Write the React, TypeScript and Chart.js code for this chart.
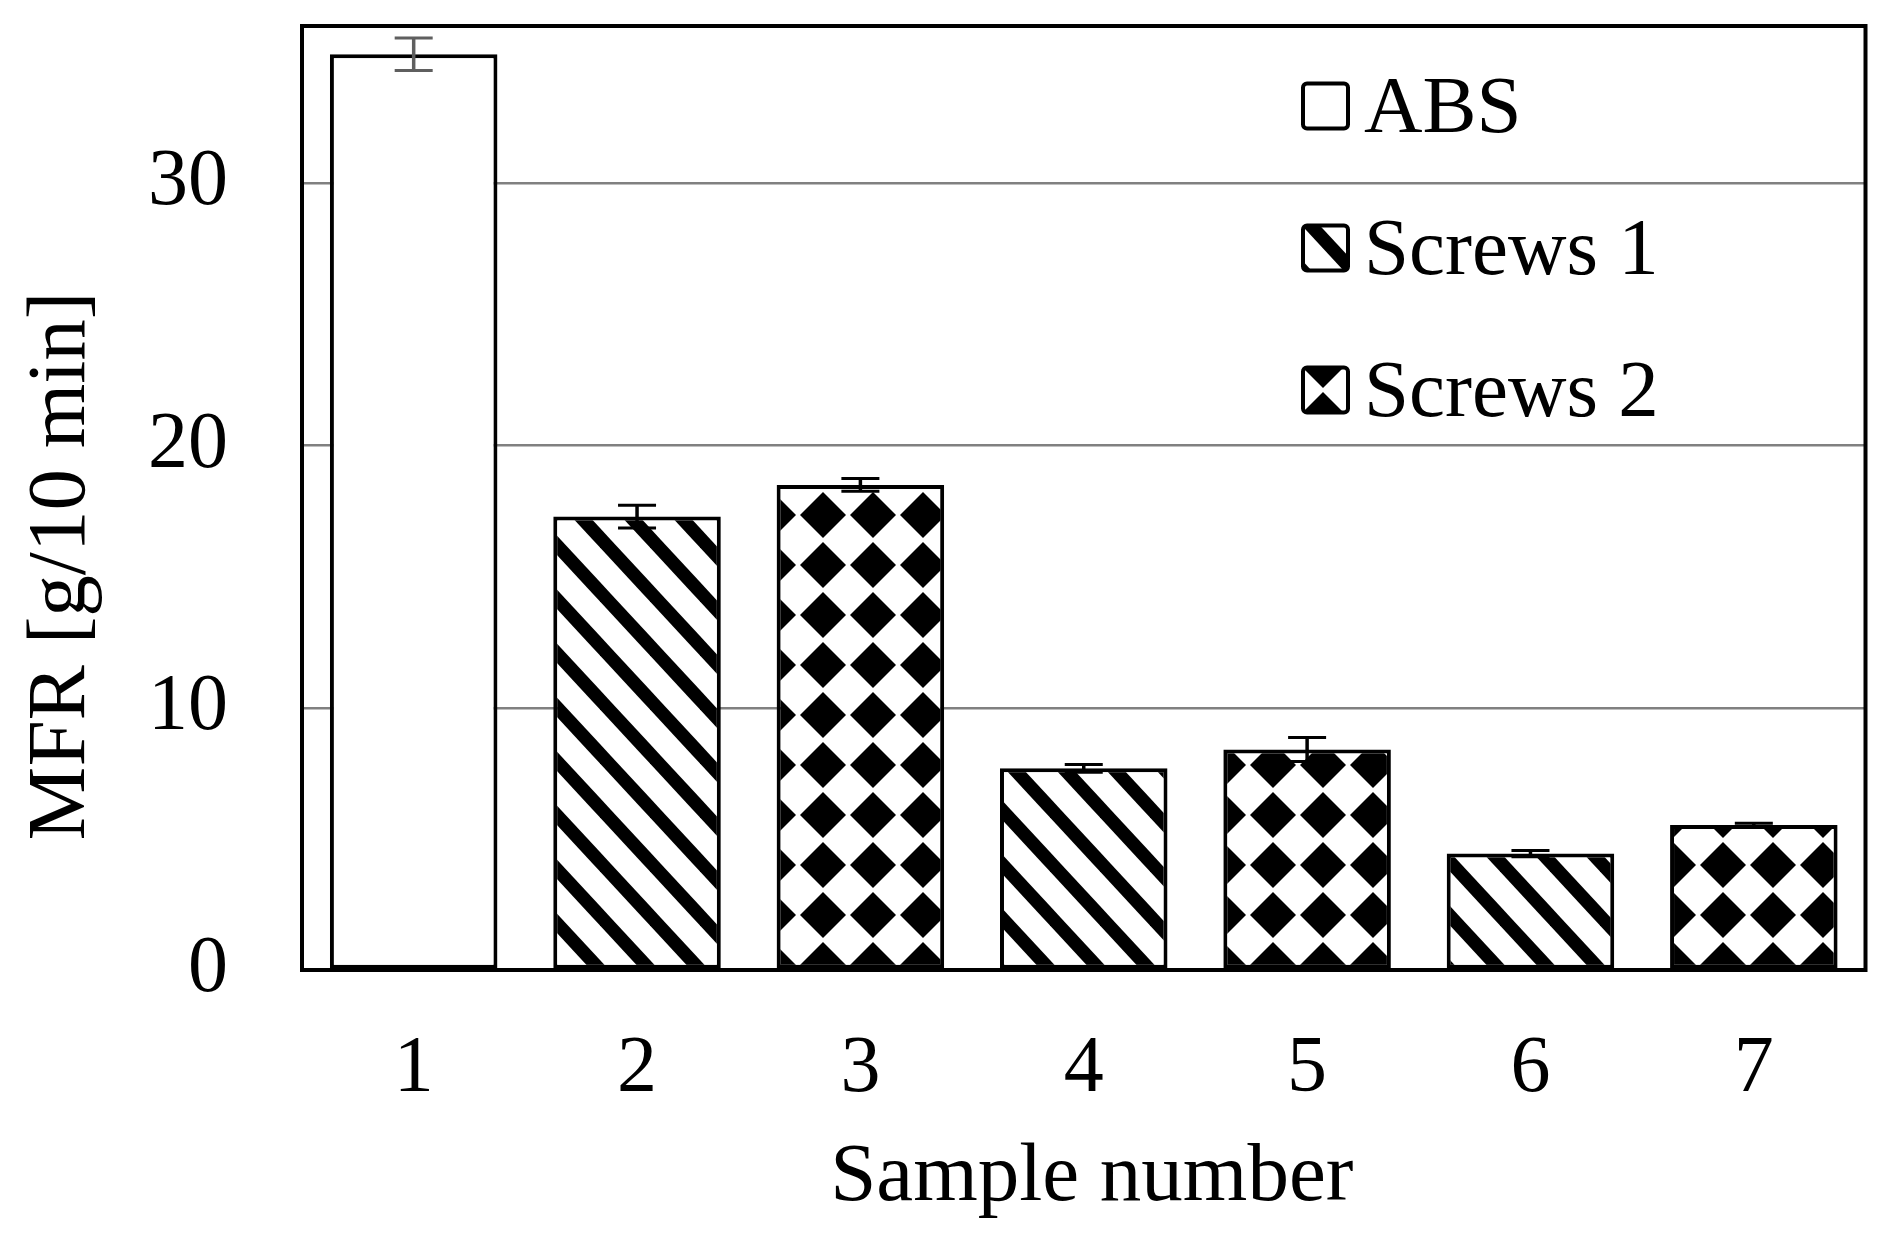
import React, { useEffect, useRef } from 'react';
import { Chart, registerables } from 'chart.js';

Chart.register(...registerables);

// ---------------- data ----------------
const categories = ['1', '2', '3', '4', '5', '6', '7'];
const seriesLabels = ['ABS', 'Screws 1', 'Screws 2'];
const absValues = [34.92, null, null, null, null, null, null];
const screws1Values = [null, 17.29, null, 7.69, null, 4.44, null];
const screws2Values = [null, null, 18.5, null, 8.41, null, 5.53];
const absErrors = [0.62, null, null, null, null, null, null];
const screws1Errors = [null, 0.43, null, 0.15, null, 0.12, null];
const screws2Errors = [null, null, 0.24, null, 0.46, null, 0.07];
const yTickValues = [0, 10, 20, 30];
const yMin = 0;
const yMax = 36;
const xTitle = 'Sample number';
const yTitle = 'MFR [g/10 min]';

const FONT = "'Liberation Serif', 'Times New Roman', serif";

function makeStripePattern(ctx: CanvasRenderingContext2D) {
  const W = 50, H = 54, bw = 18, off = 43;
  const c = document.createElement('canvas');
  c.width = W; c.height = H;
  const g = c.getContext('2d')!;
  g.fillStyle = '#ffffff';
  g.fillRect(0, 0, W, H);
  g.fillStyle = '#000000';
  for (let x0 = off - 2 * W; x0 <= off + W; x0 += W) {
    g.beginPath();
    g.moveTo(x0, 0);
    g.lineTo(x0 + bw, 0);
    g.lineTo(x0 + bw + W, H);
    g.lineTo(x0 + W, H);
    g.closePath();
    g.fill();
  }
  return ctx.createPattern(c, 'repeat')!;
}

function makeDiamondPattern(ctx: CanvasRenderingContext2D) {
  const S = 50, R = 23, cx0 = 23, cy0 = 15;
  const c = document.createElement('canvas');
  c.width = S; c.height = S;
  const g = c.getContext('2d')!;
  g.fillStyle = '#ffffff';
  g.fillRect(0, 0, S, S);
  g.fillStyle = '#000000';
  for (let dx = -S; dx <= S; dx += S) {
    for (let dy = -S; dy <= S; dy += S) {
      const cx = cx0 + dx, cy = cy0 + dy;
      g.beginPath();
      g.moveTo(cx, cy - R);
      g.lineTo(cx + R, cy);
      g.lineTo(cx, cy + R);
      g.lineTo(cx - R, cy);
      g.closePath();
      g.fill();
    }
  }
  return ctx.createPattern(c, 'repeat')!;
}

export default function App() {
  const canvasRef = useRef<HTMLCanvasElement | null>(null);

  useEffect(() => {
    const canvas = canvasRef.current!;
    const ctx = canvas.getContext('2d')!;
    const stripe = makeStripePattern(ctx);
    const diamond = makeDiamondPattern(ctx);
    const fills: any[] = ['#ffffff', stripe, diamond];
    const errorSets = [absErrors, screws1Errors, screws2Errors];
    const errColors = ['#5f5f5f', '#000000', '#000000'];

    const framePlugin = {
      id: 'frame',
      afterDatasetsDraw(chart: any) {
        const { ctx: c, chartArea: a } = chart;
        c.save();
        c.strokeStyle = '#000';
        c.lineWidth = 4;
        c.strokeRect(a.left, a.top, a.right - a.left, a.bottom - a.top);
        c.restore();
      },
    };

    const errorPlugin = {
      id: 'errorBars',
      afterDatasetsDraw(chart: any) {
        const c = chart.ctx;
        const ys = chart.scales.y;
        chart.data.datasets.forEach((ds: any, di: number) => {
          const meta = chart.getDatasetMeta(di);
          const errs = errorSets[di];
          meta.data.forEach((bar: any, i: number) => {
            const v = ds.data[i];
            const e = errs[i];
            if (v == null || e == null) return;
            const x = bar.x;
            const yt = ys.getPixelForValue(v + e);
            const yb = ys.getPixelForValue(v - e);
            c.save();
            c.strokeStyle = errColors[di];
            c.lineWidth = 3.5;
            c.beginPath();
            c.moveTo(x, yt);
            c.lineTo(x, yb);
            c.stroke();
            c.lineWidth = 3;
            c.beginPath();
            c.moveTo(x - 19, yt);
            c.lineTo(x + 19, yt);
            c.moveTo(x - 19, yb);
            c.lineTo(x + 19, yb);
            c.stroke();
            c.restore();
          });
        });
      },
    };

    const textPlugin = {
      id: 'texts',
      afterDraw(chart: any) {
        const c = chart.ctx;
        const a = chart.chartArea;
        c.save();
        c.fillStyle = '#000';
        // x title
        c.font = `83px ${FONT}`;
        c.textAlign = 'center';
        c.textBaseline = 'middle';
        c.fillText(xTitle, (a.left + a.right) / 2 + 8, 1178);
        // y title
        c.save();
        c.translate(62, 566);
        c.rotate(-Math.PI / 2);
        c.fillText(yTitle, 0, 0);
        c.restore();
        // legend
        const boxX = 1303, box = 45, firstCy = 106, gap = 142;
        c.font = `81px ${FONT}`;
        c.textAlign = 'left';
        c.textBaseline = 'alphabetic';
        seriesLabels.forEach((lab, i) => {
          const cy = firstCy + i * gap;
          c.beginPath();
          if ((c as any).roundRect) (c as any).roundRect(boxX, cy - box / 2, box, box, 4);
          else c.rect(boxX, cy - box / 2, box, box);
          c.fillStyle = fills[i];
          c.fill();
          c.lineWidth = 4;
          c.strokeStyle = '#000';
          c.stroke();
          c.fillStyle = '#000';
          c.fillText(lab, 1364, cy + 26);
        });
        c.restore();
      },
    };

    const chart = new Chart(canvas, {
      type: 'bar',
      data: {
        labels: categories,
        datasets: [
          { label: seriesLabels[0], data: absValues as any, backgroundColor: fills[0] },
          { label: seriesLabels[1], data: screws1Values as any, backgroundColor: fills[1] },
          { label: seriesLabels[2], data: screws2Values as any, backgroundColor: fills[2] },
        ],
      },
      options: {
        animation: false,
        responsive: false,
        maintainAspectRatio: false,
        layout: { padding: { left: 0, top: 26, right: 24.5, bottom: 0 } },
        datasets: {
          bar: {
            grouped: false,
            categoryPercentage: 1,
            barPercentage: 0.75,
            borderColor: '#000',
            borderWidth: 4,
            borderSkipped: false,
          } as any,
        },
        plugins: {
          legend: { display: false },
          tooltip: { enabled: false },
          title: { display: false },
        },
        scales: {
          x: {
            grid: { display: false, drawTicks: false },
            border: { display: false },
            ticks: {
              color: '#000',
              font: { family: FONT, size: 80 },
              padding: 52,
              maxRotation: 0,
            },
            afterFit(scale: any) {
              scale.height = 1236 - 970;
              scale.paddingLeft = 0;
              scale.paddingRight = 0;
              scale.paddingTop = 0;
              scale.paddingBottom = 0;
            },
          },
          y: {
            min: yMin,
            max: yMax,
            grid: {
              drawTicks: false,
              color: (c: any) => (c.tick && c.tick.value === 0 ? 'rgba(0,0,0,0)' : '#808080'),
              lineWidth: 2.5,
            },
            border: { display: false },
            afterBuildTicks(scale: any) {
              scale.ticks = yTickValues.map((v) => ({ value: v }));
            },
            ticks: {
              color: '#000',
              font: { family: FONT, size: 80 },
              padding: 74,
              includeBounds: false,
              callback: (v: any) => String(v),
            },
            afterFit(scale: any) {
              scale.width = 302;
              scale.paddingTop = 0;
              scale.paddingBottom = 0;
              scale.paddingLeft = 0;
              scale.paddingRight = 0;
            },
          },
        },
      },
      plugins: [framePlugin, errorPlugin, textPlugin],
    });

    return () => chart.destroy();
  }, []);

  return (
    <div style={{ position: 'absolute', left: 0, top: 0, width: 1890, height: 1236, background: '#fff' }}>
      <canvas ref={canvasRef} width={1890} height={1236} style={{ display: 'block', width: 1890, height: 1236 }} />
    </div>
  );
}
